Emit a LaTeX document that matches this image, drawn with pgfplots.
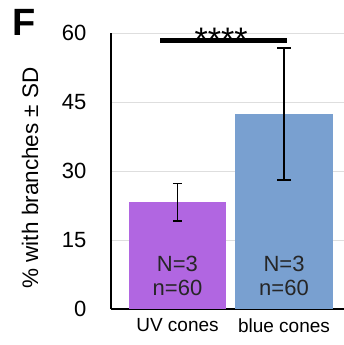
\documentclass[border=0pt]{standalone}
\usepackage{pgfplots}
\pgfplotsset{compat=1.18}
\usepackage{fontspec}
\setmainfont{Liberation Sans}
\definecolor{uvpurple}{RGB}{177,102,225}
\definecolor{bluecone}{RGB}{121,160,208}
\definecolor{gridgray}{RGB}{222,222,222}
\begin{document}
\begin{tikzpicture}
\path[use as bounding box] (-111pt,-36pt) rectangle (233pt,309pt);
\begin{axis}[
  at={(0,0)}, anchor=south west,
  scale only axis, width=233pt, height=276pt,
  xmin=-0.624, xmax=1.563, ymin=0, ymax=60,
  axis x line=bottom, axis y line=left,
  axis line style={-, line width=1.6pt, black},
  xtick={0,1}, xticklabels={UV cones, blue cones},
  ytick={0,15,30,45,60},
  major tick length=0pt,
  ymajorgrids, grid style={gridgray, line width=0.7pt},
  /pgf/number format/assume math mode=true,
  yticklabel style={font=\fontsize{22}{26}\selectfont, xshift=-21pt},
  xticklabel style={font=\fontsize{19}{22}\selectfont, yshift=-6pt},
  every axis y label/.style={at={(axis description cs:-0.3476,0.475)}, rotate=90, anchor=center, font=\fontsize{22.5}{27}\selectfont},
  ylabel={\% with branches ± SD},
  clip=false,
]
\addplot[ybar, bar width=0.915, bar shift=0, fill=uvpurple, draw=none,
  error bars/.cd, y dir=both, y explicit,
  error bar style={line width=1.6pt, black},
  error mark options={rotate=90, mark size=4.5pt, line width=1.6pt, black}]
  coordinates {(0,23.2) +- (0,4.1)};
\addplot[ybar, bar width=0.915, bar shift=0, fill=bluecone, draw=none,
  error bars/.cd, y dir=both, y explicit,
  error bar style={line width=1.6pt, black},
  error mark options={rotate=90, mark size=7pt, line width=1.6pt, black}]
  coordinates {(1,42.4) +- (0,14.4)};
\addplot[black, line width=5pt, no marks] coordinates {(-0.164,58.3) (1.025,58.3)};
\node[anchor=base, inner sep=0pt, font=\fontsize{34}{40}\selectfont] at (axis cs:0.41,55.96) {****};
\node[align=center, font=\fontsize{22}{24}\selectfont, text=black!85] at (axis cs:0,7.2) {N=3\\n=60};
\node[align=center, font=\fontsize{22}{24}\selectfont, text=black!85] at (axis cs:1,7.2) {N=3\\n=60};
\node[font=\bfseries\fontsize{38}{44}\selectfont] at (axis description cs:-0.373,1.04) {F};
\end{axis}
\end{tikzpicture}
\end{document}
